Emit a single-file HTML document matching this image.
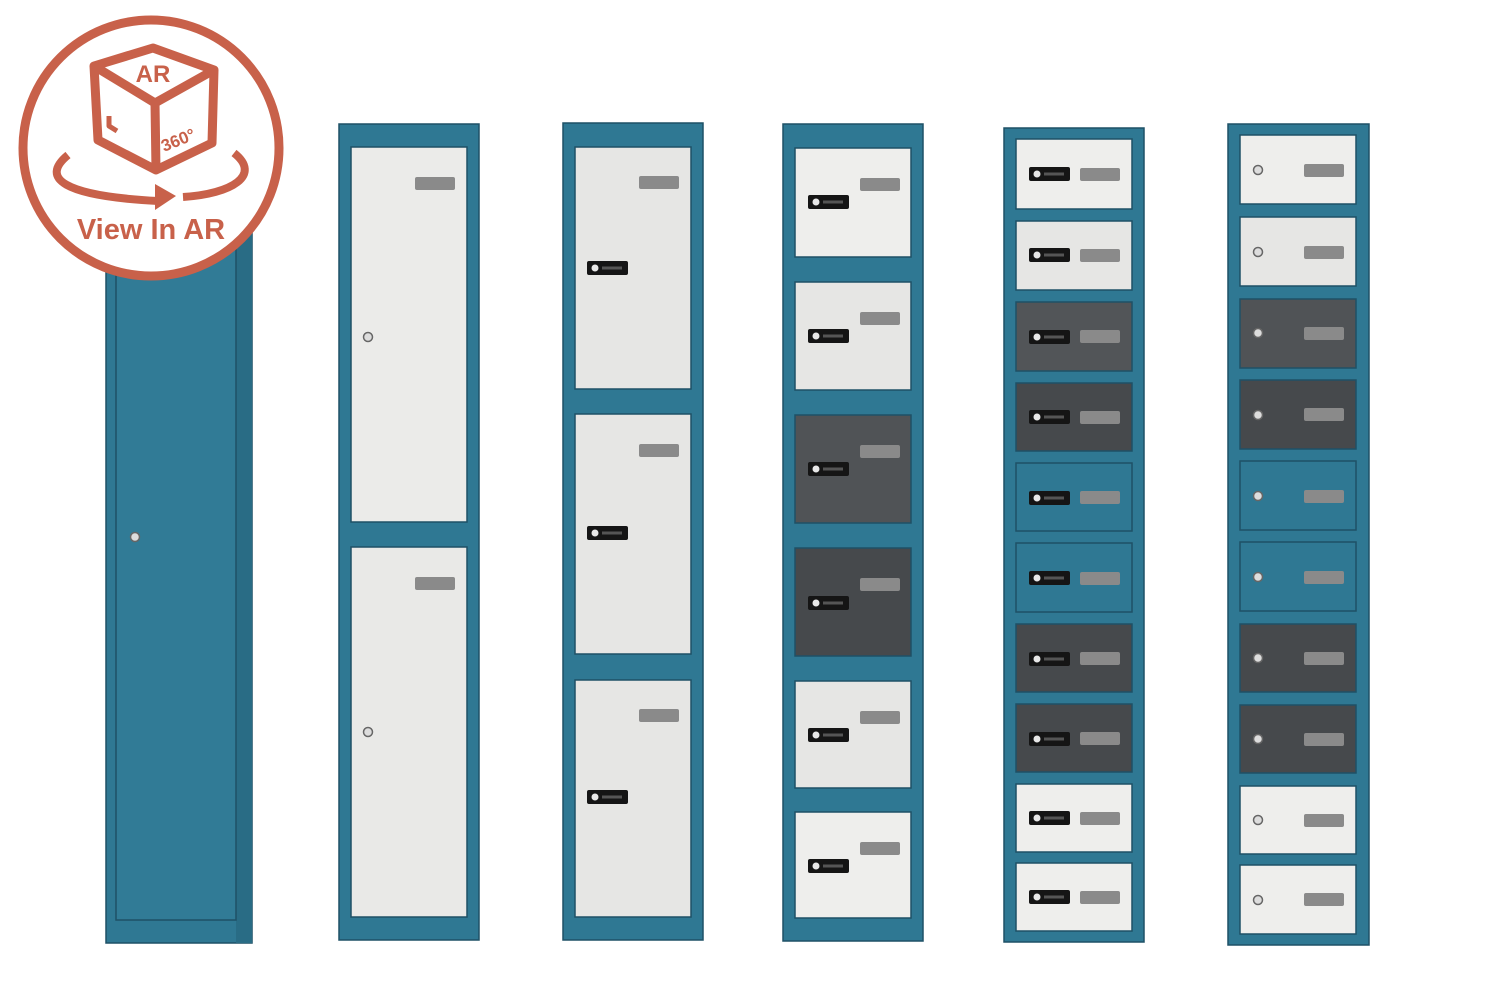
<!DOCTYPE html>
<html><head><meta charset="utf-8"><style>
html,body{margin:0;padding:0;background:#fff;}
svg{display:block}
</style></head><body>
<svg width="1500" height="1000" viewBox="0 0 1500 1000" xmlns="http://www.w3.org/2000/svg">
<defs>
<g id="dl"><rect x="0" y="0" width="41" height="14" rx="2" fill="#151515"/><circle cx="8" cy="7" r="3.5" fill="#e8e8e8"/><rect x="15" y="5.5" width="20" height="3" fill="#555"/></g>
<g id="kl"><circle cx="0" cy="0" r="4.5" fill="#ddd" stroke="#666" stroke-width="1.5"/></g>
<g id="pl"><rect x="0" y="0" width="40" height="13" rx="2" fill="#8a8a8a"/></g>
</defs>
<g stroke="#1f5166" stroke-width="1.5">
<rect x="106" y="125" width="146" height="818" fill="#2f7893"/>
<rect x="236" y="125" width="16" height="818" fill="#296c85" stroke="none"/>
<rect x="116" y="130" width="120" height="790" fill="#317b96"/>
<rect x="339" y="124" width="140" height="816" fill="#2f7893"/>
<rect x="351" y="147" width="116" height="375" fill="#ebebe9"/>
<rect x="351" y="547" width="116" height="370" fill="#e9e9e7"/>
<rect x="563" y="123" width="140" height="817" fill="#2f7893"/>
<rect x="575" y="147" width="116" height="242" fill="#e6e6e4"/>
<rect x="575" y="414" width="116" height="240" fill="#e6e6e4"/>
<rect x="575" y="680" width="116" height="237" fill="#e6e6e4"/>
<rect x="783" y="124" width="140" height="817" fill="#2f7893"/>
<rect x="795" y="148" width="116" height="109" fill="#eeeeec"/>
<rect x="795" y="282" width="116" height="108" fill="#e6e6e4"/>
<rect x="795" y="415" width="116" height="108" fill="#505356"/>
<rect x="795" y="548" width="116" height="108" fill="#46494c"/>
<rect x="795" y="681" width="116" height="107" fill="#e6e6e4"/>
<rect x="795" y="812" width="116" height="106" fill="#eeeeec"/>
<rect x="1004" y="128" width="140" height="814" fill="#2f7893"/>
<rect x="1016" y="139" width="116" height="70" fill="#eeeeec"/>
<rect x="1016" y="221" width="116" height="69" fill="#e6e6e4"/>
<rect x="1016" y="302" width="116" height="69" fill="#525558"/>
<rect x="1016" y="383" width="116" height="68" fill="#46494c"/>
<rect x="1016" y="463" width="116" height="68" fill="#2f7893"/>
<rect x="1016" y="543" width="116" height="69" fill="#2f7893"/>
<rect x="1016" y="624" width="116" height="68" fill="#46494c"/>
<rect x="1016" y="704" width="116" height="68" fill="#46494c"/>
<rect x="1016" y="784" width="116" height="68" fill="#eeeeec"/>
<rect x="1016" y="863" width="116" height="68" fill="#eeeeec"/>
<rect x="1228" y="124" width="141" height="821" fill="#2f7893"/>
<rect x="1240" y="135" width="116" height="69" fill="#eeeeec"/>
<rect x="1240" y="217" width="116" height="69" fill="#e6e6e4"/>
<rect x="1240" y="299" width="116" height="69" fill="#505356"/>
<rect x="1240" y="380" width="116" height="69" fill="#46494c"/>
<rect x="1240" y="461" width="116" height="69" fill="#2f7893"/>
<rect x="1240" y="542" width="116" height="69" fill="#2f7893"/>
<rect x="1240" y="624" width="116" height="68" fill="#46494c"/>
<rect x="1240" y="705" width="116" height="68" fill="#46494c"/>
<rect x="1240" y="786" width="116" height="68" fill="#eeeeec"/>
<rect x="1240" y="865" width="116" height="69" fill="#eeeeec"/>
</g>
<use href="#kl" x="135" y="537"/>
<use href="#kl" x="368" y="337"/><use href="#pl" x="415" y="177"/>
<use href="#kl" x="368" y="732"/><use href="#pl" x="415" y="577"/>
<use href="#dl" x="587" y="261"/><use href="#pl" x="639" y="176"/>
<use href="#dl" x="587" y="526"/><use href="#pl" x="639" y="444"/>
<use href="#dl" x="587" y="790"/><use href="#pl" x="639" y="709"/>
<use href="#dl" x="808" y="195"/><use href="#pl" x="860" y="178"/>
<use href="#dl" x="808" y="329"/><use href="#pl" x="860" y="312"/>
<use href="#dl" x="808" y="462"/><use href="#pl" x="860" y="445"/>
<use href="#dl" x="808" y="596"/><use href="#pl" x="860" y="578"/>
<use href="#dl" x="808" y="728"/><use href="#pl" x="860" y="711"/>
<use href="#dl" x="808" y="859"/><use href="#pl" x="860" y="842"/>
<g>
<use href="#dl" x="1029" y="167"/><use href="#pl" x="1080" y="168"/>
<use href="#dl" x="1029" y="248"/><use href="#pl" x="1080" y="249"/>
<use href="#dl" x="1029" y="330"/><use href="#pl" x="1080" y="330"/>
<use href="#dl" x="1029" y="410"/><use href="#pl" x="1080" y="411"/>
<use href="#dl" x="1029" y="491"/><use href="#pl" x="1080" y="491"/>
<use href="#dl" x="1029" y="571"/><use href="#pl" x="1080" y="572"/>
<use href="#dl" x="1029" y="652"/><use href="#pl" x="1080" y="652"/>
<use href="#dl" x="1029" y="732"/><use href="#pl" x="1080" y="732"/>
<use href="#dl" x="1029" y="811"/><use href="#pl" x="1080" y="812"/>
<use href="#dl" x="1029" y="890"/><use href="#pl" x="1080" y="891"/>
</g>
<g>
<use href="#kl" x="1258" y="170"/><use href="#pl" x="1304" y="164"/>
<use href="#kl" x="1258" y="252"/><use href="#pl" x="1304" y="246"/>
<use href="#kl" x="1258" y="333"/><use href="#pl" x="1304" y="327"/>
<use href="#kl" x="1258" y="415"/><use href="#pl" x="1304" y="408"/>
<use href="#kl" x="1258" y="496"/><use href="#pl" x="1304" y="490"/>
<use href="#kl" x="1258" y="577"/><use href="#pl" x="1304" y="571"/>
<use href="#kl" x="1258" y="658"/><use href="#pl" x="1304" y="652"/>
<use href="#kl" x="1258" y="739"/><use href="#pl" x="1304" y="733"/>
<use href="#kl" x="1258" y="820"/><use href="#pl" x="1304" y="814"/>
<use href="#kl" x="1258" y="900"/><use href="#pl" x="1304" y="893"/>
</g>
<circle cx="151" cy="148" r="128" fill="#fff" stroke="#c8614a" stroke-width="9"/>
<g fill="none" stroke="#c8614a" stroke-width="9" stroke-linejoin="round">
<path d="M94 66 L153 48 L214 70 L212 143 L156 170 L98 140 Z"/>
<path d="M94 66 L155 103 L214 70 M155 103 L156 170"/>
<path d="M68 155 C40 178 62 196 158 201" stroke-width="8"/>
<path d="M183 197 C232 194 262 175 234 153" stroke-width="8"/>
<path d="M109 116 L109 126 L117 131" stroke-width="5"/>
</g>
<path d="M155 184 L176 196 L155 210 Z" fill="#c8614a"/>
<g fill="#c8614a" font-family="Liberation Sans, sans-serif" font-weight="bold">
<text x="153" y="82" font-size="24" text-anchor="middle">AR</text>
<text x="164" y="152" font-size="17" transform="rotate(-22 164 152)">360°</text>
<text x="151" y="239" font-size="29" text-anchor="middle">View In AR</text>
</g>
</svg>
</body></html>
